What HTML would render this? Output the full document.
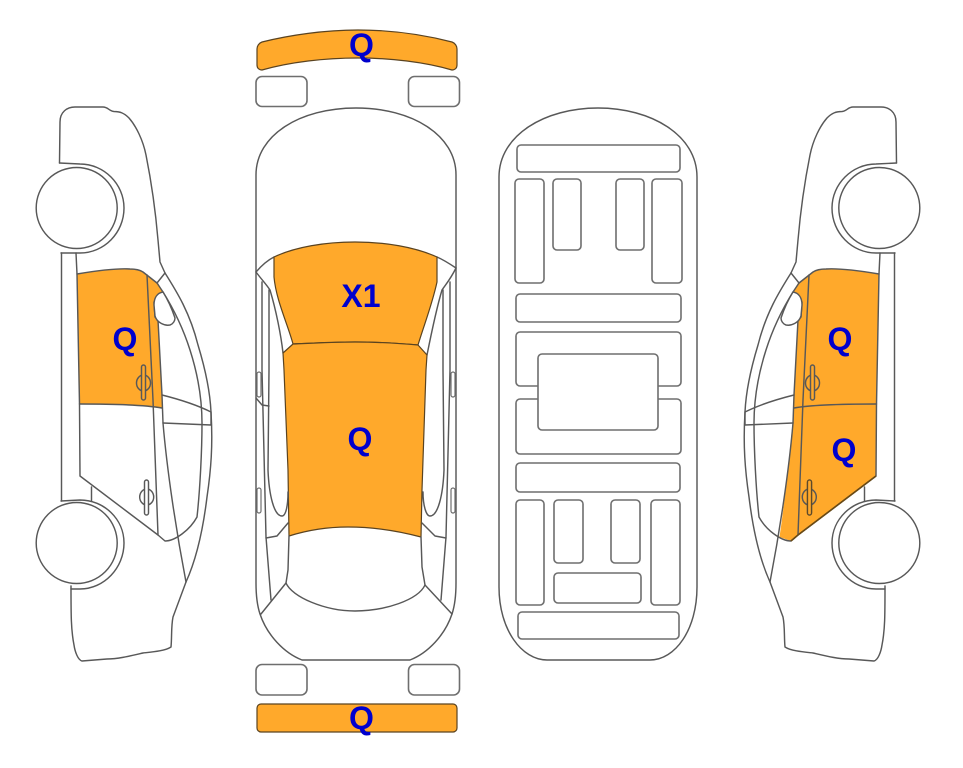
<!DOCTYPE html>
<html><head><meta charset="utf-8"><style>
html,body{margin:0;padding:0;background:#fff;width:963px;height:768px;overflow:hidden}
svg{display:block}
.l{fill:none;stroke:#585858;stroke-width:1.45;stroke-linejoin:round;stroke-linecap:round}
.w{fill:#fff;stroke:#585858;stroke-width:1.45}
.r{fill:#fff;stroke:#6e6e6e;stroke-width:1.6}
.o{fill:#ffa92b;stroke:none}
.oe{fill:#ffa92b;stroke:#5a4320;stroke-width:1.2;stroke-linejoin:round}
text{font-family:"Liberation Sans",sans-serif;font-weight:bold;font-size:32px;fill:#0000cd;text-anchor:middle}
</style></head><body>
<svg width="963" height="768" viewBox="0 0 963 768" xmlns="http://www.w3.org/2000/svg">
<defs>
<path id="upperDoor" d="M77,274 C95,271 115,268 130,269 C136,269 140,270 143,272 L158,283 L163,292 L154,302 L155,317 L158,320 L162,395 L162,408 C140,404 100,404 79.5,404 Z"/>
<path id="lowerDoor" d="M79.5,404 C100,404 140,404 162,408 C166,450 171,500 176.500,537 L165,541 C163,541 160,537 158,535 L80,476 Z"/>
<g id="side">
<path class="l" d="M59.500,163 L60,122 C60,112 67,107 75,107 L103,107 C108,107 109,111 114,111.500 C120,111.500 124,113 129,118 C136,126 143,140 146,155 C151,180 155,205 158,240 L160,262 L165,273 C177,292 190,313 198,345 C205,368 210,390 211,412 C213,445 211,470 207,497 C203,530 196,560 186,582 L173,617 C171,627 172,637 171,647 C165,651 152,652 143,653 C130,656 118,659 107,659 L82,661 C78,660 75,652 74,645 C71,630 71,615 71,586"/>
<path class="l" d="M59.500,163 L80,164 C104,164 124,184 124,208 C124,233 104,253 80,253 L61,253"/>
<path class="l" d="M61.500,253 L61.500,501"/>
<path class="l" d="M76,253 L77,274 L79.500,404 L80,476 L158,535 L165,541 C175,541 190,530 197,517 C200,490 202,450 202,423 C202,400 198,375 190,350 C183,328 173,308 163,292 L157,283 L165,273"/>
<path class="l" d="M77,274 C95,271 115,268 130,269 C136,269 140,270 143,272 L157,283"/>
<path class="l" d="M147,275 L153,400 L158,535"/>
<path class="l" d="M79.500,404 C100,404 140,404 162,408"/>
<path class="l" d="M154,302 L155,317 L158,320 L162,395 L163,423 C167,470 176,530 186,582"/>
<path class="l" d="M162,395 C178,399 197,405 211,412 M163,423 L211,425 M211,412 L211,425"/>
<path class="l" d="M91.500,487 L91.500,501"/>
<path class="w" d="M163,292 C157,293 154,298 154,305 L155,316 C157,323 165,326 170,325 C173,324 175,321 175,318 C172,309 168,300 163,292 Z"/>
<path class="l" d="M61,501 L80,500 C104,500 124,519 124,543 C124,568 104,589 80,589 L71,589"/>
<circle class="w" cx="76.700" cy="208" r="40.500"/>
<circle class="w" cx="76.700" cy="543" r="40.500"/>
<ellipse class="l" cx="143.500" cy="383" rx="7" ry="8"/>
<rect class="l" x="141.500" y="365" width="4" height="35" rx="2" style="fill:#ffa92b"/>
<ellipse class="l" cx="146.700" cy="497" rx="7" ry="8"/>
<rect class="w" x="144.500" y="480" width="4" height="35" rx="2"/>
</g>
</defs>

<!-- left car -->
<use href="#upperDoor" class="o"/>
<use href="#side"/>
<text x="125" y="350">Q</text>

<!-- right car -->
<g transform="translate(956,0) scale(-1,1)">
<use href="#upperDoor" class="o"/>
<use href="#lowerDoor" class="o"/>
<use href="#side"/>
<rect x="144.500" y="480" width="4" height="35" rx="2" fill="#ffa92b" stroke="#5f4a28" stroke-width="1.300"/>
<path d="M80,476 L158,535 L165,541" fill="none" stroke="#6a4a14" stroke-width="1.600"/>
</g>
<text x="840" y="350">Q</text>
<text x="844" y="461">Q</text>

<!-- top view -->
<path class="l" d="M256,175 C256,135 300,108 356,108 C412,108 456,135 456,175 L456,583 C456,596 455,605 452,614 C445,635 428,653 410,660 L302,660 C284,653 267,635 260,614 C257,605 256,596 256,583 Z"/>
<path class="l" d="M256,272 C262,265 268,260 274,257 M437,257 C444,260 450,264 456,268"/>
<path class="l" d="M256,272 C262,280 266,284 270,290 C276,310 281,335 283,353 M456,268 C450,280 446,284 442,290 C436,310 431,335 427,355"/>
<path class="oe" d="M274,257 C295,247 325,242 355,242 C385,242 415,247 437,257 L437,282 C432,305 424,325 418,345 C395,343 375,342 355,342 C335,342 315,343 293,344 C288,325 276,300 274,277 Z"/>
<path class="oe" d="M293,344 C315,343 335,342 355,342 C375,342 395,343 418,345 L427,355 L426,370 L422,490 L421,537 C395,530 370,527 348,527 C328,527 308,530 289,536 L288,470 L284,370 L283,353 Z"/>
<path class="l" d="M262,282 L262,370 L266,537 L271,600 M269,290 L269,370 L268,470 C269,495 274,516 282,516 C286,516 288,505 288,492"/>
<path class="l" d="M450,282 L450,370 L446,537 L441,600 M443,290 L443,370 L444,470 C443,495 438,516 430,516 C426,516 423,505 423,492"/>
<rect class="r" x="257" y="372" width="4" height="25" rx="2" style="stroke-width:1.2"/>
<rect class="r" x="257" y="488" width="4" height="25" rx="2" style="stroke-width:1.2"/>
<rect class="r" x="451" y="372" width="4" height="25" rx="2" style="stroke-width:1.2"/>
<rect class="r" x="451" y="488" width="4" height="25" rx="2" style="stroke-width:1.2"/>
<path class="l" d="M256,398 L262,405 L269,406"/>
<path class="l" d="M266,538 L277,536 L288,523 M446,538 L435,536 L422,523"/>
<path class="l" d="M289,536 L288,570 L286,583 C292,597 325,611 355,611 C385,611 418,600 425,585 L422,567 L421,537"/>
<path class="l" d="M286,583 L261,614 M425,585 L452,614"/>
<text x="361" y="307">X1</text>
<text x="360" y="450">Q</text>

<!-- bumpers & lights -->
<path class="oe" d="M262,42 C290,35 325,30 358,30 C392,30 425,35 452,42 C455,43 457,46 457,49 L457,65 C457,68 455,70 452,70 C425,62 390,58 358,58 C325,58 290,62 262,70 C259,70 257,68 257,65 L257,49 C257,46 259,43 262,42 Z"/>
<rect class="oe" x="257" y="704" width="200" height="28" rx="4"/>
<rect class="r" x="256" y="76.500" width="51" height="30" rx="6"/>
<rect class="r" x="408.500" y="76.500" width="51" height="30" rx="6"/>
<rect class="r" x="256" y="664.500" width="51" height="30.500" rx="6"/>
<rect class="r" x="408.500" y="664.500" width="51" height="30.500" rx="6"/>
<text x="361.500" y="56">Q</text>
<text x="361.500" y="729">Q</text>

<!-- underside -->
<path class="l" d="M499,177 C499,135 545,108 598,108 C651,108 697,135 697,177 L697,587 C697,630 675,660 650,660 L547,660 C522,660 499,630 499,587 Z"/>
<rect class="r" x="517" y="145" width="163" height="27" rx="4"/>
<rect class="r" x="515" y="179" width="29" height="104" rx="4"/>
<rect class="r" x="553" y="179" width="28" height="71" rx="4"/>
<rect class="r" x="616" y="179" width="28" height="71" rx="4"/>
<rect class="r" x="652" y="179" width="30" height="104" rx="4"/>
<rect class="r" x="516" y="294" width="165" height="28" rx="4"/>
<rect class="r" x="516" y="332" width="165" height="54" rx="4"/>
<rect class="r" x="516" y="399" width="165" height="55" rx="4"/>
<rect class="r" x="538" y="354" width="120" height="76" rx="4"/>
<rect class="r" x="516" y="463" width="164" height="29" rx="4"/>
<rect class="r" x="516" y="500" width="28" height="105" rx="4"/>
<rect class="r" x="554" y="500" width="29" height="63" rx="4"/>
<rect class="r" x="611" y="500" width="29" height="63" rx="4"/>
<rect class="r" x="651" y="500" width="29" height="105" rx="4"/>
<rect class="r" x="554" y="573" width="87" height="30" rx="4"/>
<rect class="r" x="518" y="612" width="161" height="27" rx="4"/>
</svg>
</body></html>
